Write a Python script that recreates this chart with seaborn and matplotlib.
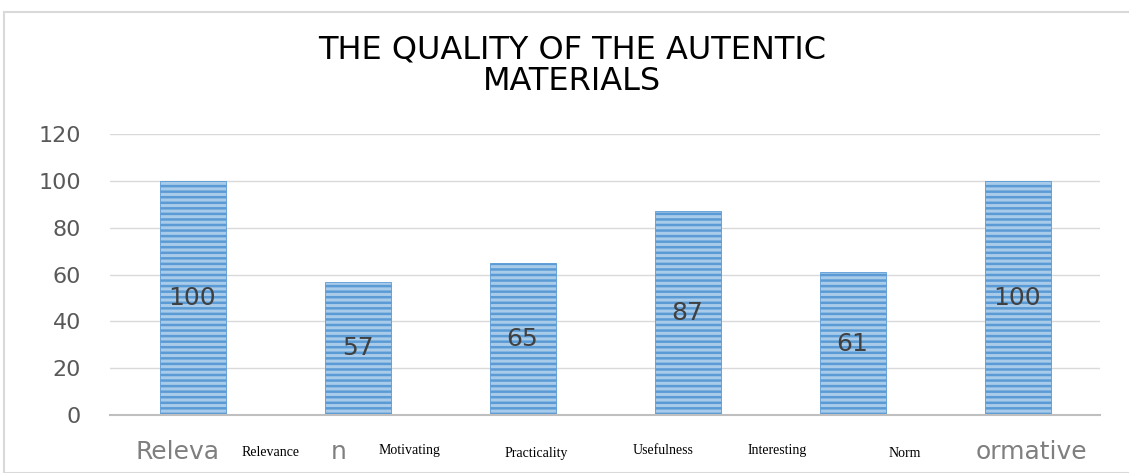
import numpy as np
import pandas as pd
import seaborn as sns
import matplotlib.pyplot as plt
from matplotlib.patches import Rectangle

# data
categories = ["Relevance", "Motivating", "Practicality", "Usefulness", "Interesting", "Informative"]
values = [100, 57, 65, 87, 61, 100]
y_ticks = [0, 20, 40, 60, 80, 100, 120]
# axis labels partly visible under the overlaid text boxes
visible_tick_text = ["Releva", "n", "", "", "", "ormative"]
overlay_labels = ["Relevance", "Motivating", "Practicality", "Usefulness", "Interesting", "Norm"]

df = pd.DataFrame({"category": categories, "value": values})

sns.set_theme(style="white")
plt.rcParams['font.family'] = ['DejaVu Sans']
plt.rcParams['hatch.linewidth'] = 1.8

fig = plt.figure(figsize=(11.29, 4.73), dpi=100)
ax = fig.add_axes([110 / 1129, 1 - 415 / 473, 990 / 1129, (415 - 134) / 473])

sns.barplot(data=df, x="category", y="value", ax=ax, width=0.4,
            color="#A9CBEA", edgecolor="#5B9BD5", hatch="---", linewidth=0.6,
            saturation=1)
for p in ax.patches:
    p.set_edgecolor("#5B9BD5")

ax.set_ylim(0, 120)
ax.set_yticks(y_ticks)
ax.tick_params(axis="y", labelsize=16, labelcolor="#595959", length=0, pad=21)
ax.set_xticks([])
ax.set_xlabel("")
ax.set_ylabel("")
ax.grid(axis="y", color="#D9D9D9", linewidth=1)
ax.set_axisbelow(True)
for s in ["top", "right", "left"]:
    ax.spines[s].set_visible(False)
ax.spines["bottom"].set_color("#BFBFBF")
ax.spines["bottom"].set_linewidth(1.5)

# value labels in the middle of each bar
for i, v in enumerate(values):
    ax.text(i, v / 2, str(v), ha="center", va="center", fontsize=18, color="#404040")

# partly hidden category labels
trans = ax.get_xaxis_transform()
ax.text(0 - 0.345, -0.13, visible_tick_text[0], transform=trans, ha="left", va="center",
        fontsize=18, color="#7F7F7F", clip_on=False)
ax.text(1 - 0.115, -0.13, visible_tick_text[1], transform=trans, ha="center", va="center",
        fontsize=18, color="#7F7F7F", clip_on=False)
ax.text(5 + 0.42, -0.13, visible_tick_text[5], transform=trans, ha="right", va="center",
        fontsize=18, color="#7F7F7F", clip_on=False)

# overlaid serif labels
label_x = [271, 409, 536, 663, 777, 905]
label_y = [452, 450, 453, 450, 450, 453]
for lab, lx, ly in zip(overlay_labels, label_x, label_y):
    fig.text(lx / 1129, 1 - ly / 473, lab, ha="center", va="center", fontsize=10,
             color="black", family=["Liberation Serif", "DejaVu Serif"])

# title
fig.text(572 / 1129, 1 - 50 / 473, "THE QUALITY OF THE AUTENTIC", ha="center", va="center",
         fontsize=23, color="black")
fig.text(572 / 1129, 1 - 82 / 473, "MATERIALS", ha="center", va="center",
         fontsize=23, color="black")

# chart frame
fig.patches.append(Rectangle((4 / 1129, 0), 1.2, 1 - 12 / 473, transform=fig.transFigure,
                             fill=False, edgecolor="#D9D9D9", linewidth=1.5))

fig.savefig("out.png", dpi=100)
